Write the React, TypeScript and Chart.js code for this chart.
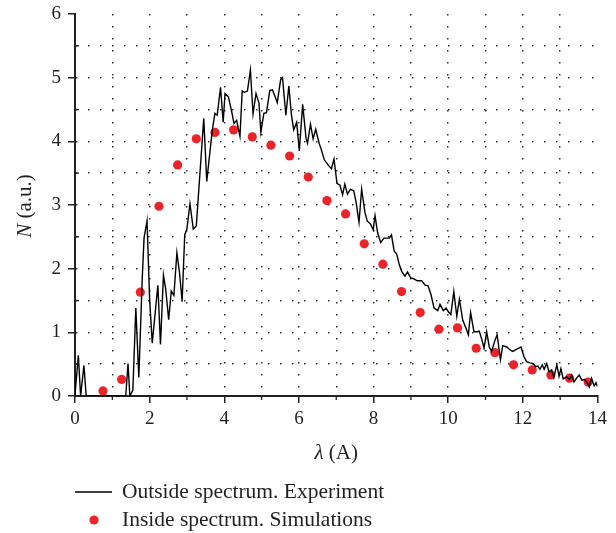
import React, { useEffect, useRef } from "react";
import { Chart, registerables } from "chart.js";

Chart.register(...registerables);

// Experiment (outside spectrum) — black noisy line
const expX = [
  0.0, 0.09, 0.15, 0.24, 0.3, 1.36, 1.42, 1.47, 1.55, 1.63, 1.71, 1.8, 1.85, 1.93, 2.0, 2.07,
  2.22, 2.29, 2.37, 2.43, 2.51, 2.58, 2.65, 2.73, 2.8, 2.87, 2.94, 3.0, 3.08, 3.17, 3.25, 3.45,
  3.53, 3.68, 3.75, 3.81, 3.9, 3.97, 4.02, 4.11, 4.19, 4.26, 4.33, 4.42, 4.48, 4.54, 4.62, 4.7,
  4.77, 4.85, 4.93, 4.98, 5.06, 5.13, 5.22, 5.29, 5.42, 5.51, 5.56, 5.65, 5.73, 5.8, 5.86, 5.94,
  6.01, 6.1, 6.19, 6.23, 6.31, 6.38, 6.45, 6.54, 6.6, 6.68, 6.78, 6.87, 6.94, 7.02, 7.1, 7.17,
  7.23, 7.3, 7.38, 7.47, 7.53, 7.61, 7.68, 7.77, 7.83, 7.92, 7.99, 8.04, 8.11, 8.19, 8.28, 8.42,
  8.48, 8.55, 8.62, 8.69, 8.76, 8.84, 8.91, 8.99, 9.08, 9.17, 9.29, 9.38, 9.46, 9.54, 9.62, 9.72,
  9.78, 9.87, 9.94, 10.01, 10.07, 10.15, 10.23, 10.3, 10.39, 10.48, 10.54, 10.6, 10.69, 10.78, 10.83, 10.9,
  10.96, 11.03, 11.1, 11.16, 11.25, 11.31, 11.4, 11.46, 11.57, 11.64, 11.73, 11.79, 11.88, 11.95, 12.03, 12.1,
  12.19, 12.28, 12.34, 12.4, 12.46, 12.52, 12.57, 12.64, 12.7, 12.77, 12.83, 12.91, 12.97, 13.02, 13.08, 13.17,
  13.25, 13.31, 13.37, 13.44, 13.51, 13.58, 13.66, 13.73, 13.78, 13.84, 13.91, 13.96, 14.0,
];
const expY = [
  0.02, 0.64, 0.0, 0.48, 0.0, 0.0, 0.51, 0.0, 0.09, 1.38, 0.29, 1.82, 2.48, 2.75, 1.51, 0.83,
  1.74, 0.81, 1.9, 1.68, 1.2, 1.65, 1.58, 2.25, 1.94, 1.48, 2.53, 2.63, 3.02, 2.62, 2.67, 4.36,
  3.37, 4.18, 4.44, 4.41, 4.85, 4.3, 4.75, 4.7, 4.49, 4.28, 4.33, 4.08, 4.79, 4.77, 4.79, 5.12,
  4.43, 4.75, 4.6, 4.14, 4.44, 4.45, 4.8, 4.81, 4.61, 4.97, 5.0, 4.41, 4.87, 4.41, 4.18, 4.3,
  3.85, 4.58, 4.05, 3.97, 4.27, 4.04, 4.19, 3.97, 3.87, 3.71, 3.63, 3.57, 3.72, 3.34, 3.31, 3.16,
  3.33, 3.17, 3.25, 3.22, 3.05, 2.73, 3.25, 2.88, 2.75, 2.7, 2.61, 2.83, 2.56, 2.41, 2.48, 2.48,
  2.53, 2.28, 2.23, 2.06, 1.95, 1.88, 1.95, 1.86, 1.84, 1.81, 1.81, 1.74, 1.73, 1.59, 1.38, 1.34,
  1.44, 1.34, 1.38, 1.32, 1.28, 1.64, 1.25, 1.52, 1.19, 1.06, 0.96, 1.31, 1.01, 1.01, 1.02, 0.89,
  0.75, 1.01, 0.77, 0.7, 0.87, 0.96, 0.57, 0.79, 0.77, 0.73, 0.7, 0.72, 0.75, 0.77, 0.62, 0.54,
  0.52, 0.51, 0.46, 0.47, 0.42, 0.49, 0.42, 0.51, 0.38, 0.41, 0.29, 0.49, 0.31, 0.43, 0.27, 0.3,
  0.26, 0.33, 0.22, 0.28, 0.33, 0.25, 0.26, 0.2, 0.14, 0.28, 0.16, 0.21, 0.15,
];

// Simulations (inside spectrum) — red dots
const simX = [
  0.75, 1.25, 1.75, 2.25, 2.75, 3.25, 3.75, 4.25, 4.75, 5.25, 5.75, 6.25, 6.75, 7.25,
  7.75, 8.25, 8.75, 9.25, 9.75, 10.25, 10.75, 11.25, 11.75, 12.25, 12.75, 13.25, 13.75,
];
const simY = [
  0.08, 0.26, 1.63, 2.98, 3.63, 4.04, 4.14, 4.18, 4.07, 3.94, 3.77, 3.44, 3.07, 2.86,
  2.39, 2.07, 1.64, 1.31, 1.05, 1.07, 0.75, 0.68, 0.49, 0.41, 0.33, 0.28, 0.22,
];

const xMin = 0;
const xMax = 14;
const yMin = 0;
const yMax = 6;

const xTitle = [
  { t: "λ", italic: true },
  { t: " (A)", italic: false },
];
const yTitle = [
  { t: "N", italic: true },
  { t: " (a.u.)", italic: false },
];
const legendLabels = ["Outside spectrum. Experiment", "Inside spectrum. Simulations"];

const FONT = "'Liberation Serif', 'Times New Roman', serif";
const TEXT = "#231f20";
const RED = "#ec2329";

function drawMixed(ctx: CanvasRenderingContext2D, parts: { t: string; italic: boolean }[], cx: number, cy: number, size: number) {
  let total = 0;
  const widths = parts.map((p) => {
    ctx.font = `${p.italic ? "italic " : ""}${size}px ${FONT}`;
    const w = ctx.measureText(p.t).width;
    total += w;
    return w;
  });
  let x = cx - total / 2;
  ctx.textBaseline = "middle";
  ctx.textAlign = "left";
  parts.forEach((p, i) => {
    ctx.font = `${p.italic ? "italic " : ""}${size}px ${FONT}`;
    ctx.fillText(p.t, x, cy);
    x += widths[i];
  });
}

const decorPlugin = {
  id: "decor",
  afterDraw(chart: any) {
    const ctx: CanvasRenderingContext2D = chart.ctx;
    const xs = chart.scales.x;
    const ys = chart.scales.y;
    const area = chart.chartArea;
    ctx.save();
    // minor ticks
    ctx.strokeStyle = "#222";
    ctx.lineWidth = 1.3;
    for (const t of xs.ticks) {
      if (t.value % 2 !== 0) {
        const px = xs.getPixelForValue(t.value);
        ctx.beginPath();
        ctx.moveTo(px, area.bottom);
        ctx.lineTo(px, area.bottom + 4);
        ctx.stroke();
      }
    }
    for (const t of ys.ticks) {
      if (!Number.isInteger(t.value)) {
        const py = ys.getPixelForValue(t.value);
        ctx.beginPath();
        ctx.moveTo(area.left, py);
        ctx.lineTo(area.left + 4, py);
        ctx.stroke();
      }
    }
    ctx.fillStyle = TEXT;
    // x title
    drawMixed(ctx, xTitle, (area.left + area.right) / 2, area.bottom + 57, 21);
    // y title
    ctx.save();
    ctx.translate(25, (area.top + area.bottom) / 2 + 1);
    ctx.rotate(-Math.PI / 2);
    drawMixed(ctx, yTitle, 0, 0, 21);
    ctx.restore();
    // legend
    const ly1 = area.bottom + 96;
    const ly2 = area.bottom + 124;
    ctx.strokeStyle = "#000";
    ctx.lineWidth = 1.5;
    ctx.beginPath();
    ctx.moveTo(area.left, ly1);
    ctx.lineTo(area.left + 37, ly1);
    ctx.stroke();
    ctx.fillStyle = RED;
    ctx.beginPath();
    ctx.arc(area.left + 19, ly2, 4.6, 0, Math.PI * 2);
    ctx.fill();
    ctx.fillStyle = TEXT;
    ctx.font = `21.5px ${FONT}`;
    ctx.textAlign = "left";
    ctx.textBaseline = "middle";
    ctx.fillText(legendLabels[0], area.left + 47, ly1);
    ctx.fillText(legendLabels[1], area.left + 47, ly2);
    ctx.restore();
  },
};

export default function App() {
  const ref = useRef<HTMLCanvasElement | null>(null);
  useEffect(() => {
    if (!ref.current) return;
    const chart = new Chart(ref.current, {
      type: "scatter",
      data: {
        datasets: [
          {
            label: legendLabels[0],
            data: expX.map((x, i) => ({ x, y: expY[i] })),
            showLine: true,
            borderColor: "#000",
            borderWidth: 1.4,
            pointRadius: 0,
            tension: 0,
          },
          {
            label: legendLabels[1],
            data: simX.map((x, i) => ({ x, y: simY[i] })),
            showLine: false,
            pointRadius: 4.6,
            pointBackgroundColor: RED,
            pointBorderWidth: 0,
            backgroundColor: RED,
            borderColor: RED,
          },
        ],
      },
      options: {
        animation: false,
        responsive: true,
        maintainAspectRatio: false,
        layout: { padding: { top: 14, right: 18.5, left: 0, bottom: 0 } },
        plugins: { legend: { display: false }, tooltip: { enabled: false } },
        scales: {
          x: {
            type: "linear",
            min: xMin,
            max: xMax,
            ticks: {
              stepSize: 1,
              autoSkip: false,
              maxRotation: 0,
              padding: 5,
              color: TEXT,
              font: { family: FONT, size: 19 },
              callback: (v: any) => (Number(v) % 2 === 0 ? String(v) : ""),
            },
            grid: {
              color: (c: any) => (c.tick && (c.tick.value === xMax || c.tick.value === xMin) ? "rgba(0,0,0,0)" : "#333"),
              lineWidth: 1.5,
              tickLength: 7,
              tickWidth: 1.5,
              tickColor: (c: any) => (c.tick && c.tick.value % 2 !== 0 ? "rgba(0,0,0,0)" : "#222"),
            },
            border: { display: true, color: "#222", width: 2, dash: [1.5, 10.5] },
            afterFit: (s: any) => {
              s.height = 137;
              s.paddingLeft = 0;
              s.paddingRight = 0;
            },
          },
          y: {
            type: "linear",
            min: yMin,
            max: yMax,
            ticks: {
              stepSize: 0.5,
              autoSkip: false,
              padding: 7,
              color: TEXT,
              font: { family: FONT, size: 19 },
              callback: (v: any) => (Number.isInteger(Number(v)) ? String(v) : ""),
            },
            grid: {
              color: (c: any) => (c.tick && (c.tick.value === yMax || c.tick.value === yMin) ? "rgba(0,0,0,0)" : "#333"),
              lineWidth: 1.5,
              tickLength: 7,
              tickWidth: 1.5,
              tickColor: (c: any) => (c.tick && !Number.isInteger(c.tick.value) ? "rgba(0,0,0,0)" : "#222"),
            },
            border: { display: true, color: "#222", width: 2, dash: [1.5, 10.5] },
            afterFit: (s: any) => {
              s.width = 75;
              s.paddingTop = 0;
              s.paddingBottom = 0;
            },
          },
        },
      },
      plugins: [decorPlugin],
    });
    return () => chart.destroy();
  }, []);
  return (
    <div style={{ position: "absolute", left: 0, top: 0, width: 616, height: 533, background: "#fff" }}>
      <canvas ref={ref} />
    </div>
  );
}
